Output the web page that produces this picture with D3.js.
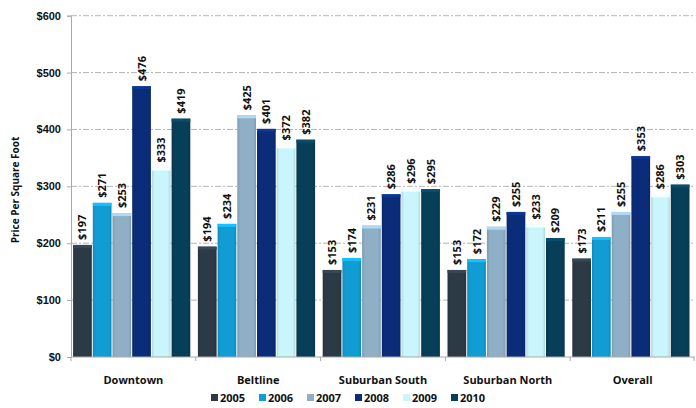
<!DOCTYPE html>
<html>
<head>
<meta charset="utf-8">
<script src="https://cdn.jsdelivr.net/npm/d3@7"></script>
<style>
  html, body { margin: 0; padding: 0; background: #fff; }
  svg { display: block; font-family: "Open Sans", "Noto Sans", sans-serif; }
</style>
</head>
<body>
<svg id="chart" width="696" height="408"></svg>
<script>
// Price per square foot by submarket, 2005–2010
const categories = ["Downtown", "Beltline", "Suburban South", "Suburban North", "Overall"];
const years = ["2005", "2006", "2007", "2008", "2009", "2010"];
const v2005 = [197, 194, 153, 153, 173];
const v2006 = [271, 234, 174, 172, 211];
const v2007 = [253, 425, 231, 229, 255];
const v2008 = [476, 401, 286, 255, 353];
const v2009 = [333, 372, 296, 233, 286];
const v2010 = [419, 382, 295, 209, 303];
const yTicks = [0, 100, 200, 300, 400, 500, 600];
const yearColors = ["#2c3a45", "#129cd4", "#8eafc6", "#0b2c78", "#c9f6fc", "#073e58"];

const seriesValues = [v2005, v2006, v2007, v2008, v2009, v2010];

const svg = d3.select("#chart");
const margin = { left: 71, right: 1, top: 15.7, bottom: 51 };
const W = 696, H = 408;

const x0 = d3.scaleBand().domain(categories).range([margin.left, W - margin.right]).paddingInner(0).paddingOuter(0);
const x1 = d3.scaleBand().domain(years).range([1.6, x0.bandwidth() - 5]).padding(0);
const y = d3.scaleLinear().domain([0, 600]).range([H - margin.bottom, margin.top]);

const color = d3.scaleOrdinal().domain(years).range(yearColors);

// gradient for bevelled bar tops
const defs = svg.append("defs");
years.forEach((yr, i) => {
  const c = d3.color(yearColors[i]);
  const g = defs.append("linearGradient").attr("id", "g" + yr).attr("x1", 0).attr("x2", 1).attr("y1", 0).attr("y2", 0);
  g.append("stop").attr("offset", "0%").attr("stop-color", c.darker(0.35));
  g.append("stop").attr("offset", "15%").attr("stop-color", c);
  g.append("stop").attr("offset", "85%").attr("stop-color", c);
  g.append("stop").attr("offset", "100%").attr("stop-color", c.darker(0.35));
});

// gridlines
const grid = svg.append("g");
grid.selectAll("line").data(yTicks.filter(d => d > 0)).join("line")
  .attr("x1", margin.left).attr("x2", 693)
  .attr("y1", d => y(d)).attr("y2", d => y(d))
  .attr("stroke", "#b5b5b5").attr("stroke-width", 1)
  .attr("stroke-dasharray", "6,2,2,2");

// y axis
const yAxis = d3.axisLeft(y).tickValues(yTicks).tickFormat(d => "$" + d).tickSize(4).tickPadding(6);
const ya = svg.append("g").attr("transform", `translate(${margin.left},0)`).call(yAxis);
ya.select(".domain").attr("stroke", "#a9a9a9");
ya.selectAll(".tick line").attr("stroke", "#a9a9a9");
ya.selectAll("text").attr("font-size", 11).attr("font-weight", "bold").attr("fill", "#111");

// bars
const groups = svg.append("g").selectAll("g").data(categories).join("g")
  .attr("transform", d => `translate(${x0(d)},0)`);

groups.each(function(cat, ci) {
  const g = d3.select(this);
  const data = years.map((yr, si) => ({ yr, v: seriesValues[si][ci] }));
  g.selectAll("rect.bar").data(data).join("rect").attr("class", "bar")
    .attr("x", d => x1(d.yr) + 0.5)
    .attr("width", x1.bandwidth() - 1)
    .attr("y", d => y(d.v))
    .attr("height", d => y(0) - y(d.v))
    .attr("fill", d => `url(#g${d.yr})`);
  // light bevel on top
  g.selectAll("rect.top").data(data).join("rect").attr("class", "top")
    .attr("x", d => x1(d.yr) + 0.5)
    .attr("width", x1.bandwidth() - 1)
    .attr("y", d => y(d.v))
    .attr("height", 3)
    .attr("fill", d => d3.color(color(d.yr)).brighter(0.6));
  g.selectAll("text").data(data).join("text")
    .attr("transform", d => `translate(${x1(d.yr) + x1.bandwidth() / 2 + 4},${y(d.v) - 5}) rotate(-90)`)
    .attr("text-anchor", "start")
    .attr("font-size", 11).attr("font-weight", "bold").attr("fill", "#111")
    .text(d => "$" + d.v);
});

// baseline and category ticks
svg.append("line").attr("x1", margin.left).attr("x2", W - margin.right)
  .attr("y1", y(0)).attr("y2", y(0)).attr("stroke", "#a9a9a9");
const bounds = categories.map(c => x0(c)).concat([x0(categories[categories.length - 1]) + x0.bandwidth() - 1]);
svg.append("g").selectAll("line").data(bounds).join("line")
  .attr("x1", d => d).attr("x2", d => d)
  .attr("y1", y(0)).attr("y2", y(0) + 4).attr("stroke", "#a9a9a9");

// category labels
svg.append("g").selectAll("text").data(categories).join("text")
  .attr("x", d => x0(d) + x0.bandwidth() / 2)
  .attr("y", 384)
  .attr("text-anchor", "middle")
  .attr("font-size", 11).attr("font-weight", "bold").attr("fill", "#111")
  .text(d => d);

// y axis title
svg.append("text")
  .attr("transform", "translate(19,190) rotate(-90)")
  .attr("text-anchor", "middle")
  .attr("font-size", 10).attr("font-weight", "bold").attr("fill", "#111")
  .text("Price Per Square Foot");

// legend
const legend = svg.append("g").attr("transform", "translate(211,402)");
const li = legend.selectAll("g").data(years).join("g")
  .attr("transform", (d, i) => `translate(${i * 48},0)`);
li.append("rect").attr("x", 0).attr("y", -8).attr("width", 7).attr("height", 7)
  .attr("fill", d => color(d));
li.append("text").attr("x", 9).attr("y", 0)
  .attr("font-size", 11).attr("font-weight", "bold").attr("fill", "#111")
  .text(d => d);
</script>
</body>
</html>
